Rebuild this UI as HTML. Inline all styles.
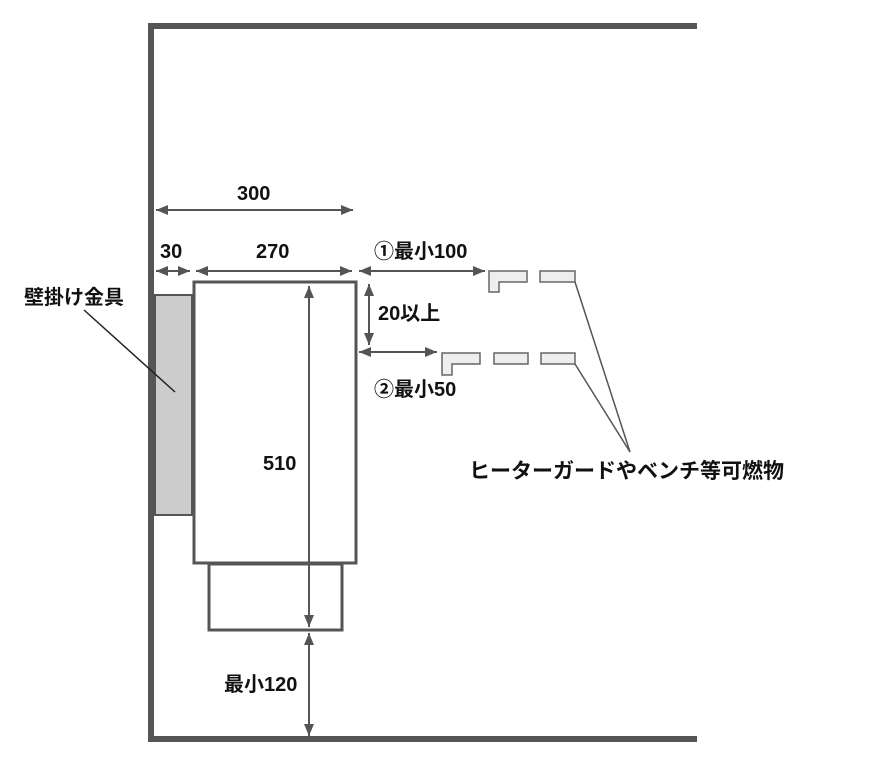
<!DOCTYPE html>
<html><head><meta charset="utf-8"><style>
html,body{margin:0;padding:0;background:#fff;}
svg text{font-family:"Liberation Sans","Noto Sans CJK JP",sans-serif;font-weight:bold;fill:#111;}
</style></head><body>
<svg width="876" height="767" viewBox="0 0 876 767" xmlns="http://www.w3.org/2000/svg">
<defs>
<marker id="a" viewBox="0 0 12 10" refX="12" refY="5" markerWidth="13" markerHeight="10" markerUnits="userSpaceOnUse" orient="auto-start-reverse">
<path d="M0,0 L12,5 L0,10 z" fill="#555"/></marker>
</defs>
<path d="M697,26 L151,26 L151,739 L697,739" fill="none" stroke="#555" stroke-width="6"/>
<rect x="155" y="295" width="37" height="220" fill="#ccc" stroke="#555" stroke-width="2"/>
<rect x="194" y="282" width="162" height="281" fill="#fff" stroke="#555" stroke-width="3"/>
<rect x="209" y="564" width="133" height="66" fill="#fff" stroke="#555" stroke-width="3"/>
<g stroke="#555" stroke-width="2" fill="none">
<line x1="156" y1="210" x2="353" y2="210" marker-start="url(#a)" marker-end="url(#a)"/>
<line x1="156" y1="271" x2="190" y2="271" marker-start="url(#a)" marker-end="url(#a)"/>
<line x1="196" y1="271" x2="352" y2="271" marker-start="url(#a)" marker-end="url(#a)"/>
<line x1="359" y1="271" x2="485" y2="271" marker-start="url(#a)" marker-end="url(#a)"/>
<line x1="369" y1="284" x2="369" y2="345" marker-start="url(#a)" marker-end="url(#a)"/>
<line x1="359" y1="352" x2="437" y2="352" marker-start="url(#a)" marker-end="url(#a)"/>
<line x1="309" y1="286" x2="309" y2="627" marker-start="url(#a)" marker-end="url(#a)"/>
<line x1="309" y1="633" x2="309" y2="736" marker-start="url(#a)" marker-end="url(#a)"/>
</g>
<g fill="#eee" stroke="#666" stroke-width="1.5">
<path d="M489,271 L527,271 L527,282 L499,282 L499,292 L489,292 Z"/>
<rect x="540" y="271" width="35" height="11"/>
<path d="M442,353 L480,353 L480,364 L452,364 L452,375 L442,375 Z"/>
<rect x="494" y="353" width="34" height="11"/>
<rect x="541" y="353" width="34" height="11"/>
</g>
<g stroke="#555" stroke-width="1.5">
<line x1="575" y1="282" x2="630" y2="452"/>
<line x1="575" y1="364" x2="630" y2="452"/>
</g>
<line x1="84" y1="310" x2="175" y2="392" stroke="#222" stroke-width="1.5"/>
<text x="237" y="200" font-size="20">300</text>
<text x="160" y="258" font-size="20">30</text>
<text x="256" y="258" font-size="20">270</text>
<text x="374" y="258" font-size="20">①最小100</text>
<text x="378" y="320" font-size="20">20以上</text>
<text x="374" y="396" font-size="20">②最小50</text>
<text x="24" y="304" font-size="20">壁掛け金具</text>
<text x="263" y="470" font-size="20">510</text>
<text x="224" y="691" font-size="20">最小120</text>
<text x="469" y="478" font-size="21">ヒーターガードやベンチ等可燃物</text>
</svg>
</body></html>
